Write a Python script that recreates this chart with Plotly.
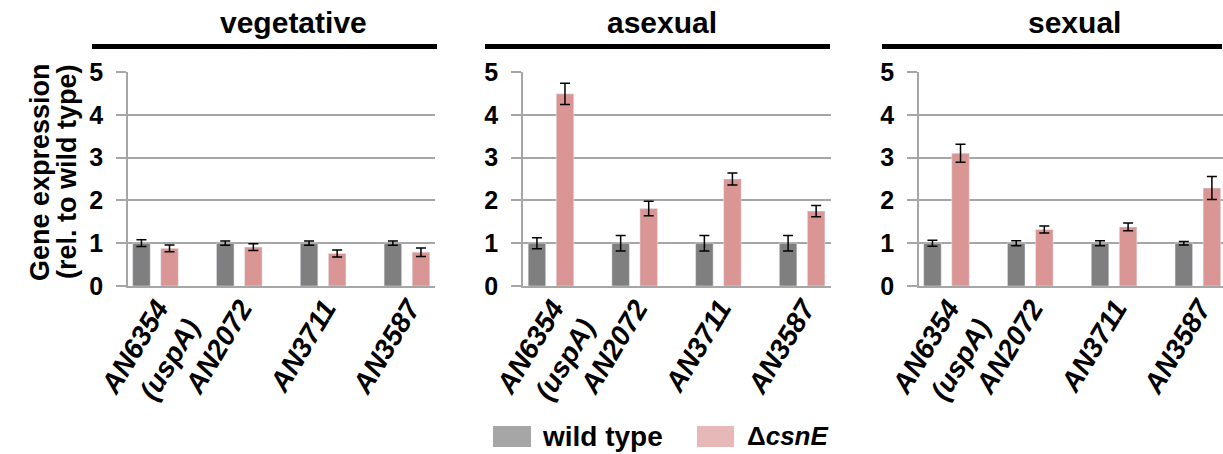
import plotly.graph_objects as go

W, H = 1223, 454

genes = ["AN6354<br>(uspA)", "AN2072", "AN3711", "AN3587"]
stages = ["vegetative", "asexual", "sexual"]

# Relative expression (mean) and error (+/-) per stage
wt_vegetative = [1.0, 1.0, 1.0, 1.0]
wt_vegetative_err = [0.08, 0.05, 0.05, 0.05]
csnE_vegetative = [0.88, 0.91, 0.76, 0.79]
csnE_vegetative_err = [0.08, 0.08, 0.08, 0.10]

wt_asexual = [1.0, 1.0, 1.0, 1.0]
wt_asexual_err = [0.13, 0.18, 0.18, 0.18]
csnE_asexual = [4.49, 1.81, 2.50, 1.75]
csnE_asexual_err = [0.25, 0.17, 0.14, 0.13]

wt_sexual = [1.0, 1.0, 1.0, 1.0]
wt_sexual_err = [0.07, 0.06, 0.06, 0.04]
csnE_sexual = [3.10, 1.32, 1.38, 2.29]
csnE_sexual_err = [0.21, 0.08, 0.09, 0.27]

wt_vals = [wt_vegetative, wt_asexual, wt_sexual]
wt_errs = [wt_vegetative_err, wt_asexual_err, wt_sexual_err]
ko_vals = [csnE_vegetative, csnE_asexual, csnE_sexual]
ko_errs = [csnE_vegetative_err, csnE_asexual_err, csnE_sexual_err]

FONT = "Liberation Sans, Arial, sans-serif"
GRID = "#A6A6A6"
WT_BAR, KO_BAR = "#7F7F7F", "#D99694"
WT_KEY, KO_KEY = "#A6A6A6", "#E6B9B8"


def px(x):
    return x / W


def py(y):
    return 1 - y / H


# panel geometry in pixels: (left, right) of plot area, x range, title centre, header bar extent
panels = [
    dict(x0=128, x1=435, rng=[-0.328, 3.335], tx=293, bar=(92, 437)),
    dict(x0=523, x1=831, rng=[-0.334, 3.345], tx=662, bar=(485, 830)),
    dict(x0=919, x1=1223, rng=[-0.328, 3.30], tx=1074, bar=(882, 1222)),
]
PLOT_TOP, PLOT_BOTTOM = 72, 286

fig = go.Figure()
shapes = []
annotations = []

for i, p in enumerate(panels):
    sfx = "" if i == 0 else str(i + 1)
    err_style = dict(type="data", color="black", thickness=1.5, width=5)
    fig.add_trace(go.Bar(
        x=genes, y=wt_vals[i], name="wild type", marker_color=WT_BAR,
        error_y=dict(array=wt_errs[i], **err_style),
        xaxis="x" + sfx, yaxis="y" + sfx, showlegend=False,
    ))
    fig.add_trace(go.Bar(
        x=genes, y=ko_vals[i], name="ΔcsnE", marker_color=KO_BAR,
        error_y=dict(array=ko_errs[i], **err_style),
        xaxis="x" + sfx, yaxis="y" + sfx, showlegend=False,
    ))
    fig.update_layout(**{
        "xaxis" + sfx: dict(
            domain=[px(p["x0"]), px(p["x1"])], anchor="y" + sfx,
            type="category", range=p["rng"], showline=True, linecolor=GRID,
            linewidth=1.5, ticks="", showgrid=False, tickangle=-59,
            ticklabelstandoff=-7, ticklabelshift=2, automargin=False,
            tickfont=dict(family=FONT, size=28, color="black",
                          weight="bold", style="italic"),
        ),
        "yaxis" + sfx: dict(
            domain=[py(PLOT_BOTTOM), py(PLOT_TOP)], anchor="x" + sfx,
            range=[0, 5], dtick=1, showgrid=True, gridcolor=GRID,
            gridwidth=1.5, showline=True, linecolor=GRID, linewidth=1.5,
            ticks="outside", ticklen=10, tickcolor=GRID, tickwidth=1.5,
            zeroline=False, ticklabelstandoff=8, automargin=False,
            tickfont=dict(family=FONT, size=25, color="black", weight="bold"),
        ),
    })
    # stage heading with black rule underneath
    annotations.append(dict(
        x=px(p["tx"]), y=py(23), xref="paper", yref="paper",
        text=stages[i], showarrow=False, xanchor="center", yanchor="middle",
        font=dict(family=FONT, size=30, color="black", weight="bold"),
    ))
    shapes.append(dict(
        type="line", xref="paper", yref="paper",
        x0=px(p["bar"][0]), x1=px(p["bar"][1]), y0=py(46.5), y1=py(46.5),
        line=dict(color="black", width=5),
    ))

# y-axis title in two lines
annotations.append(dict(
    x=px(40), y=py(172), xref="paper", yref="paper", text="Gene expression",
    showarrow=False, textangle=-90, xanchor="center", yanchor="middle",
    font=dict(family=FONT, size=27, color="black", weight="bold"),
))
annotations.append(dict(
    x=px(67), y=py(172), xref="paper", yref="paper", text="(rel. to wild type)",
    showarrow=False, textangle=-90, xanchor="center", yanchor="middle",
    font=dict(family=FONT, size=27, color="black", weight="bold"),
))

# key at the bottom
for (kx0, kx1, col, label, tx, fs) in [
    (493, 531, WT_KEY, "wild type", 540, 28),
    (697, 734, KO_KEY, "Δ<i>csnE</i>", 745, 26),
]:
    shapes.append(dict(
        type="rect", xref="paper", yref="paper",
        x0=px(kx0), x1=px(kx1), y0=py(447), y1=py(426),
        fillcolor=col, line=dict(width=0),
    ))
    annotations.append(dict(
        x=px(tx), y=py(436), xref="paper", yref="paper", text=label,
        showarrow=False, xanchor="left", yanchor="middle",
        font=dict(family=FONT, size=fs, color="black", weight="bold"),
    ))

fig.update_layout(
    width=W, height=H, autosize=False,
    margin=dict(l=0, r=0, t=0, b=0, autoexpand=False),
    paper_bgcolor="white", plot_bgcolor="white",
    barmode="group", bargap=0.33, bargroupgap=0.375,
    shapes=shapes, annotations=annotations,
)

fig.write_html("out.html")
